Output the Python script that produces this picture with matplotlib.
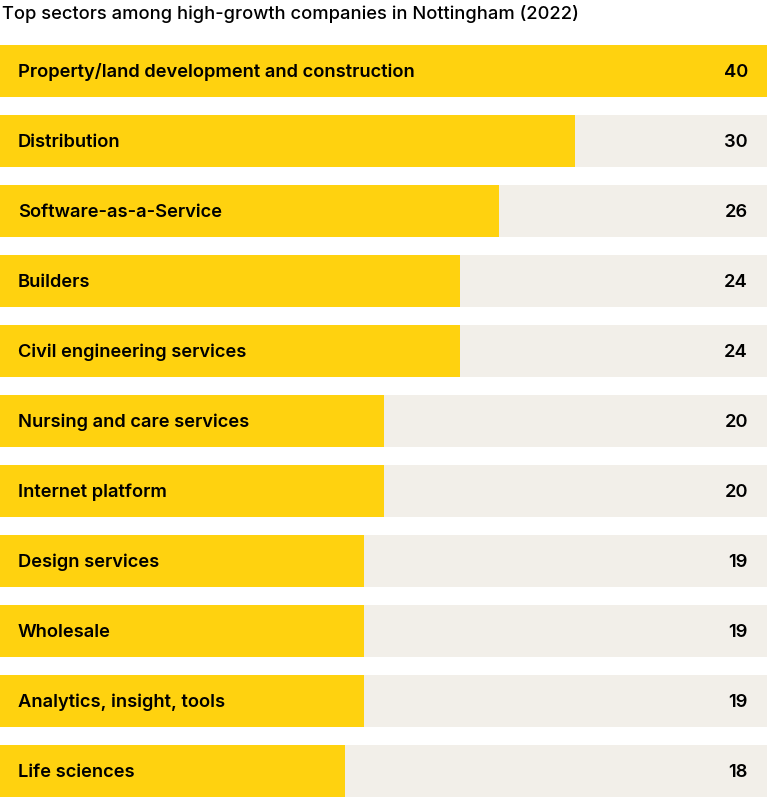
import matplotlib.pyplot as plt

# --- DATA ---
sectors = [
    "Property/land development and construction",
    "Distribution",
    "Software-as-a-Service",
    "Builders",
    "Civil engineering services",
    "Nursing and care services",
    "Internet platform",
    "Design services",
    "Wholesale",
    "Analytics, insight, tools",
    "Life sciences",
]
counts = [40, 30, 26, 24, 24, 20, 20, 19, 19, 19, 18]
title = "Top sectors among high-growth companies in Nottingham (2022)"

YELLOW = "#FFD20F"
TRACK = "#F2EFE9"

plt.rcParams["font.family"] = ["Inter", "DejaVu Sans"]

fig = plt.figure(figsize=(7.68, 7.97), dpi=100)
ax = fig.add_axes([0, 0, 767 / 768, 1 - 45 / 797])

h = 52 / 70
ys = list(range(len(sectors)))
vmax = max(counts)
ax.barh(ys, [vmax] * len(ys), height=h, color=TRACK, linewidth=0)
ax.barh(ys, counts, height=h, color=YELLOW, linewidth=0)

for y, name, v in zip(ys, sectors, counts):
    ax.text(vmax * 18 / 767, y + 0.015, name, va="center", ha="left",
            fontsize=13.2, fontweight="semibold", color="black")
    ax.text(vmax * 748 / 767, y + 0.015, str(v), va="center", ha="right",
            fontsize=13.2, fontweight="semibold", color="black")

ax.set_xlim(0, vmax)
ax.set_ylim(len(ys) - 1 + h / 2, -h / 2)
ax.axis("off")

fig.text(2 / 768, 1 - 14 / 797, title, ha="left", va="center",
         fontsize=13.2, fontweight="medium", color="black")

fig.savefig("out.png", dpi=100)
